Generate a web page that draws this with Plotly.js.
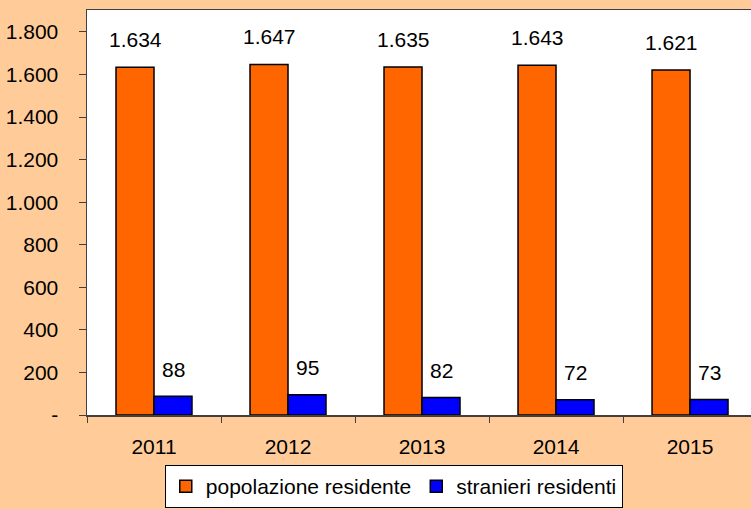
<!DOCTYPE html>
<html>
<head>
<meta charset="utf-8">
<script src="https://cdn.plot.ly/plotly-3.0.1.min.js"></script>
<style>html,body{margin:0;padding:0;background:#FFCC99;}</style>
</head>
<body>
<div id="chart" style="width:751px;height:509px;"></div>
<script>
const years = ["2011", "2012", "2013", "2014", "2015"];
const popolazione = [1634, 1647, 1635, 1643, 1621];
const stranieri = [88, 95, 82, 72, 73];
const tickValues = [0, 200, 400, 600, 800, 1000, 1200, 1400, 1600, 1800];
const tickLabels = ["-", "200", "400", "600", "800", "1.000", "1.200", "1.400", "1.600", "1.800"];
const seriesNames = ["popolazione residente", "stranieri residenti"];

function fmt(v) {
  return String(v).replace(/\B(?=(\d{3})+(?!\d))/g, ".");
}

const font = {family: "Liberation Sans, Arial, sans-serif", size: 21, color: "#000"};

const traces = [
  {type: "bar", x: years, y: popolazione, name: seriesNames[0],
   marker: {color: "#FF6600", line: {color: "#000", width: 1.5}}, hoverinfo: "none"},
  {type: "bar", x: years, y: stranieri, name: seriesNames[1],
   marker: {color: "#0000FF", line: {color: "#000", width: 1.5}}, hoverinfo: "none"}
];

const annotations = [];
years.forEach((yr, i) => {
  annotations.push({x: i, y: popolazione[i], xref: "x", yref: "y", text: fmt(popolazione[i]),
    showarrow: false, xshift: -19, yshift: 28, yanchor: "middle", font: font});
  annotations.push({x: i, y: stranieri[i], xref: "x", yref: "y", text: fmt(stranieri[i]),
    showarrow: false, xshift: 19, yshift: 27, yanchor: "middle", font: font});
});

const layout = {
  width: 751, height: 509,
  margin: {l: 87, r: 0, t: 10, b: 94, pad: 0, autoexpand: false},
  paper_bgcolor: "#FFCC99",
  plot_bgcolor: "#FFFFFF",
  barmode: "group",
  bargap: 0.433,
  bargroupgap: 0,
  separators: ",.",
  showlegend: true,
  font: font,
  xaxis: {
    type: "category",
    range: [-0.5, 4.455],
    tickson: "boundaries",
    ticks: "outside", ticklen: 6, tickcolor: "#404040", tickwidth: 1,
    showline: true, linecolor: "#404040", linewidth: 1.5, mirror: true,
    showgrid: false, zeroline: false,
    tickfont: font, ticklabelstandoff: 12, fixedrange: true, automargin: false
  },
  yaxis: {
    range: [0, 1903],
    tickvals: tickValues, ticktext: tickLabels,
    ticks: "outside", ticklen: 7, tickcolor: "#404040", tickwidth: 1,
    showline: true, linecolor: "#404040", linewidth: 1.5,
    showgrid: false, zeroline: false,
    tickfont: font, ticklabelstandoff: 16, fixedrange: true, automargin: false
  },
  legend: {
    orientation: "h", x: 0.462, xanchor: "center", y: -0.2296, yanchor: "bottom",
    bgcolor: "#FFFFFF", bordercolor: "#000", borderwidth: 1,
    font: font, itemwidth: 30
  },
  annotations: annotations
};

Plotly.newPlot("chart", traces, layout, {displayModeBar: false, staticPlot: true});
</script>
</body>
</html>
